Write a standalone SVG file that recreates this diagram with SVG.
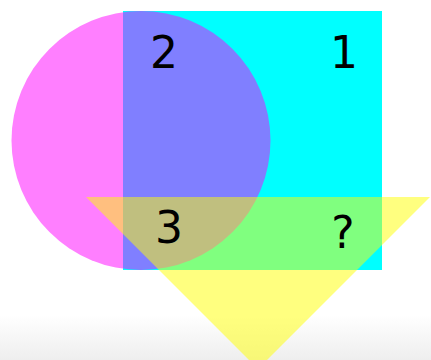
<svg xmlns="http://www.w3.org/2000/svg" width="431" height="360" viewBox="0 0 431 360">
<style>
.lbl{font-family:"DejaVu Sans","Liberation Sans",sans-serif;font-size:44px;fill:#000;text-anchor:middle}
</style>
<defs>
<linearGradient id="bg" x1="0" y1="0" x2="0" y2="1">
<stop offset="0" stop-color="#ffffff"/>
<stop offset="1" stop-color="#eeeeee"/>
</linearGradient>
</defs>
<rect x="0" y="0" width="431" height="360" fill="#ffffff"/>
<rect x="0" y="315" width="431" height="45" fill="url(#bg)"/>
<g id="square"><rect x="123" y="11" width="259" height="259" fill="#00ffff"/></g>
<g id="circle"><circle cx="141" cy="140.5" r="129.5" fill="#ff00ff" fill-opacity="0.5"/></g>
<g id="triangle"><polygon points="86,197 430,197 258,369" fill="#ffff00" fill-opacity="0.5"/></g>
<g id="labels">
<text id="label-2" class="lbl" x="164" y="68">2</text>
<text id="label-1" class="lbl" x="344" y="68">1</text>
<text id="label-3" class="lbl" x="169" y="243">3</text>
<text id="label-q" class="lbl" x="343" y="248">?</text>
</g>
<g id="connectors"/>
</svg>
